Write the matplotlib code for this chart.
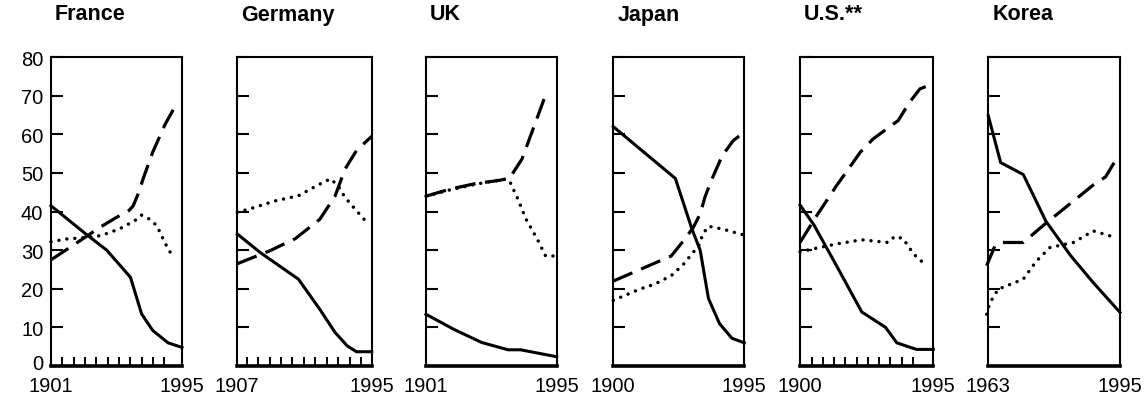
import matplotlib
matplotlib.use("Agg")
import matplotlib.pyplot as plt
import matplotlib.transforms as mtransforms
import numpy as np

plt.rcParams['font.family'] = ['Liberation Sans', 'DejaVu Sans']

countries = ["France", "Germany", "UK", "Japan", "U.S.**", "Korea"]
start_years = [1901, 1907, 1901, 1900, 1900, 1963]
end_years = [1995, 1995, 1995, 1995, 1995, 1995]
y_ticks = [0, 10, 20, 30, 40, 50, 60, 70, 80]

# France
fr_solid_x = [1901, 1926, 1941, 1958, 1966, 1974, 1985, 1995]
fr_solid_y = [41.5, 34.2, 30, 23, 13.5, 9.2, 6, 4.8]
fr_dash_x = [1901, 1917, 1936, 1948, 1957, 1960, 1964, 1967, 1974, 1983, 1990]
fr_dash_y = [27.5, 31.3, 35.9, 38.5, 40.3, 41.5, 45, 48.4, 55.4, 62.7, 67.2]
fr_dot_x = [1901, 1912, 1927, 1937, 1950, 1961, 1966, 1972, 1977, 1982, 1985, 1989]
fr_dot_y = [32.2, 32.9, 33.3, 33.8, 35.5, 37.6, 39.1, 38, 36.3, 32.5, 30.3, 28.2]

# Germany
de_solid_x = [1907, 1922, 1947, 1961, 1971, 1979, 1985, 1995]
de_solid_y = [34.2, 29.4, 22.5, 14.7, 8.7, 5.2, 3.7, 3.7]
de_dash_x = [1907, 1928, 1945, 1961, 1971, 1977.5, 1985, 1995]
de_dash_y = [26.5, 29.8, 33, 38, 44, 51, 55.8, 59.5]
de_dot_x = [1907, 1917.5, 1932, 1947, 1959, 1968, 1973, 1977.5, 1984, 1990]
de_dot_y = [39.8, 41, 42.8, 44.1, 46.7, 48.5, 46.7, 43.7, 40.7, 38]

# UK
uk_solid_x = [1901, 1921, 1941, 1960, 1969, 1995]
uk_solid_y = [13.4, 9.5, 6.1, 4.2, 4.2, 2.4]
uk_dash_x = [1901, 1918, 1937, 1952, 1961, 1970, 1978, 1987]
uk_dash_y = [44, 45.8, 47.3, 48, 48.6, 53.6, 61.4, 70.2]
uk_dot_x = [1901, 1918, 1937, 1957, 1961, 1967, 1973, 1981, 1987, 1994]
uk_dot_y = [44, 45.6, 47.1, 48.4, 48, 43.3, 38, 32.9, 28.5, 28.5]

# Japan
jp_solid_x = [1900, 1945, 1957, 1963, 1969, 1977, 1986, 1995]
jp_solid_y = [62, 48.6, 35.5, 30, 17.5, 11, 7.2, 6]
jp_dash_x = [1900, 1942, 1951, 1958, 1963, 1966.5, 1971, 1979, 1987, 1995]
jp_dash_y = [22, 28.5, 32.5, 35.9, 39.4, 43.8, 48, 54.5, 58.4, 60.6]
jp_dot_x = [1900, 1919, 1930, 1942, 1951, 1956, 1962, 1965, 1969, 1975, 1982, 1994]
jp_dot_y = [17, 19.9, 21.2, 23.4, 26.4, 28.6, 31.2, 34.2, 36.2, 35.8, 35.2, 34]

# U.S.
us_solid_x = [1900, 1910, 1926, 1944, 1961, 1969, 1983, 1995]
us_solid_y = [41.7, 36.5, 26, 14, 10, 6, 4.3, 4.3]
us_dash_x = [1900, 1912, 1926, 1943, 1952, 1970, 1978, 1985.5, 1994]
us_dash_y = [32, 39, 46.7, 55.4, 58.8, 63.6, 68.3, 71.8, 73]
us_dot_x = [1900, 1914, 1926, 1944, 1957, 1963, 1967.5, 1973.5, 1981, 1990]
us_dot_y = [29.6, 30.7, 31.6, 32.7, 32.2, 32, 33.6, 33, 29, 26]

# Korea
kr_solid_x = [1963, 1966, 1971.5, 1977, 1983, 1988.5, 1995]
kr_solid_y = [64.8, 52.7, 49.6, 37.5, 28.6, 21.6, 13.9]
kr_dash_x = [1962.6, 1964.6, 1966, 1971.5, 1977, 1984, 1988.5, 1991.5, 1994.6]
kr_dash_y = [26, 31.1, 32, 32, 37, 43, 46.9, 49, 54.5]
kr_dot_x = [1962.6, 1963.4, 1965.4, 1971.5, 1974.7, 1978, 1983.7, 1988.5, 1992.6]
kr_dot_y = [13.4, 16.4, 19.9, 22.5, 27.2, 30.7, 32, 35, 33.7]

series = [
    (fr_solid_x, fr_solid_y, fr_dash_x, fr_dash_y, fr_dot_x, fr_dot_y),
    (de_solid_x, de_solid_y, de_dash_x, de_dash_y, de_dot_x, de_dot_y),
    (uk_solid_x, uk_solid_y, uk_dash_x, uk_dash_y, uk_dot_x, uk_dot_y),
    (jp_solid_x, jp_solid_y, jp_dash_x, jp_dash_y, jp_dot_x, jp_dot_y),
    (us_solid_x, us_solid_y, us_dash_x, us_dash_y, us_dot_x, us_dot_y),
    (kr_solid_x, kr_solid_y, kr_dash_x, kr_dash_y, kr_dot_x, kr_dot_y),
]

# layout (pixels) and minor tick settings (axes fractions)
W, H = 1146, 402
lefts_px = [51, 237.3, 426, 613.3, 800, 988.3]
rights_px = [182, 371.7, 556.7, 744.3, 933.3, 1120]
bottom_px, top_px = 367, 58.2
minor_cfg = [(0.085, 0.0868, 10), (0.07, 0.0850, 11), None, None, (0.087, 0.0845, 10), None]

fig = plt.figure(figsize=(W / 100, H / 100), dpi=100)

for i, name in enumerate(countries):
    l = lefts_px[i] / W
    w = (rights_px[i] - lefts_px[i]) / W
    b = (H - bottom_px) / H
    h = (bottom_px - top_px) / H
    ax = fig.add_axes([l, b, w, h])
    sx, sy, dx, dy, ox, oy = series[i]
    x0, x1 = start_years[i], end_years[i]
    ax.plot(sx, sy, color='black', lw=2.2, solid_joinstyle='round', clip_on=False)
    ax.plot(dx, dy, color='black', lw=2.3, linestyle=(0, (6.5, 3)),
            dash_capstyle='butt', clip_on=False)
    ax.plot(ox, oy, color='black', lw=2.5, linestyle=(0, (0.01, 2.3)),
            dash_capstyle='round', clip_on=False)
    ax.set_xlim(x0, x1)
    ax.set_ylim(0, 80)
    ax.set_yticks(y_ticks)
    ax.set_xticks([x0, x1])
    ax.set_xticklabels([str(x0), str(x1)])
    ax.tick_params(axis='x', which='major', length=0, pad=7.5, labelsize=14.5)
    ax.tick_params(axis='y', which='major', direction='in', length=8.6, width=1.5,
                   pad=5.5, labelsize=14.5)
    if i > 0:
        ax.tick_params(axis='y', labelleft=False)
    else:
        lab0 = ax.get_yticklabels()[0]
        lab0.set_transform(lab0.get_transform() +
                           mtransforms.ScaledTranslation(0, 3 / 72, fig.dpi_scale_trans))
    cfg = minor_cfg[i]
    if cfg is not None:
        off, sp, n = cfg
        fr = off + sp * np.arange(n)
        ax.set_xticks(x0 + fr * (x1 - x0), minor=True)
        ax.tick_params(axis='x', which='minor', direction='in', length=6.5, width=1.4)
    for s in ['left', 'right', 'top']:
        ax.spines[s].set_linewidth(1.5)
    ax.spines['bottom'].set_linewidth(2.6)
    ax.spines['bottom'].set_capstyle('projecting')
    ax.set_facecolor('none')
    fig.text((lefts_px[i] + 4) / W, 1 - 15 / H, name, fontsize=15.5, fontweight='bold',
             ha='left', va='center')

fig.savefig("out.png", dpi=100)
